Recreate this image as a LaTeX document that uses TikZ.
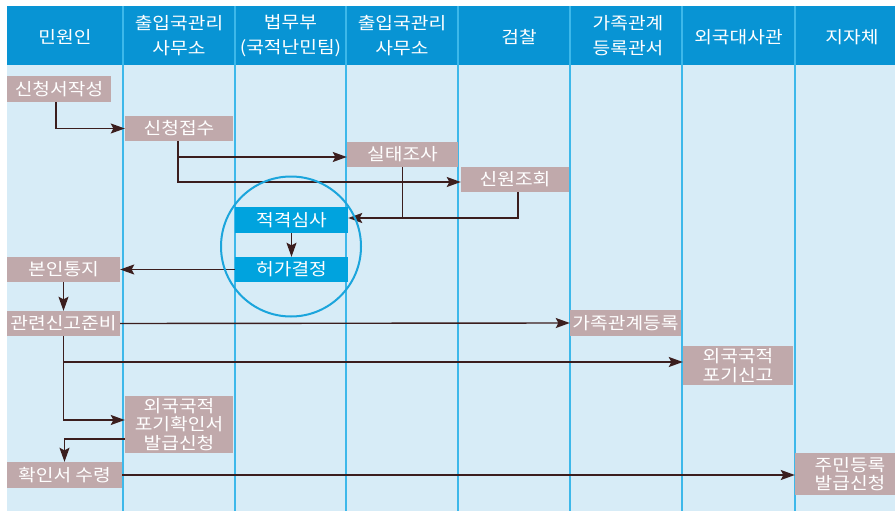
\documentclass[tikz,border=0pt]{standalone}
\usepackage{fontspec}
\newfontfamily\kr[FakeStretch=1.13]{Noto Sans CJK KR}
\usetikzlibrary{arrows.meta,calc}
\definecolor{bgc}{HTML}{D7ECF7}
\definecolor{hdrc}{HTML}{0894D4}
\definecolor{divc}{HTML}{3DB8EA}
\definecolor{boxc}{HTML}{C0A9AB}
\definecolor{bluebox}{HTML}{00A3DE}
\definecolor{arrc}{HTML}{3B1E1E}
\definecolor{circc}{HTML}{1BA5DC}
\tikzset{
  hdrtxt/.style={text=white, align=center, inner sep=0, font=\kr\fontsize{17}{25}\selectfont},
  box/.style={fill=boxc, text=white, align=center, inner sep=0, font=\kr\fontsize{17}{18.5}\selectfont},
  bbox/.style={box, fill=bluebox},
  divline/.style={draw=divc, line width=2pt},
  conn/.style={draw=arrc, line width=1.4pt},
  arr/.style={conn, -{Stealth[length=14pt,width=10pt,inset=2.5pt]}},
}
\begin{document}
\begin{tikzpicture}[x=1pt,y=-1pt]
\useasboundingbox (0,0) rectangle (895,511);
\fill[white] (0,0) rectangle (895,511);
\fill[bgc] (7,6) rectangle (900,511);
\fill[hdrc] (7,6) rectangle (900,65);
\foreach \x in {123,235,346,458,570,682,795} \draw[divline] (\x,6) -- (\x,511);
% header
\node[hdrtxt] (h1) at (65,37) {민원인};
\node[hdrtxt] (h2) at (179,36) {출입국관리\\사무소};
\node[hdrtxt] (h3) at (290.5,36) {법무부\\(국적난민팀)};
\node[hdrtxt] (h4) at (402,36) {출입국관리\\사무소};
\node[hdrtxt] (h5) at (519,37) {검찰};
\node[hdrtxt] (h6) at (628,36) {가족관계\\등록관서};
\node[hdrtxt] (h7) at (738.5,37) {외국대사관};
\node[hdrtxt] (h8) at (852,37) {지자체};
% boxes
\node[box, minimum width=104, minimum height=26] (a) at (59,89) {신청서작성};
\node[box, minimum width=108, minimum height=25] (b) at (179,128.5) {신청접수};
\node[box, minimum width=111, minimum height=25] (c) at (402.5,154.5) {실태조사};
\node[box, minimum width=108, minimum height=25] (d) at (515,179.5) {신원조회};
\node[bbox, minimum width=113, minimum height=26] (e) at (291.5,220) {적격심사};
\node[bbox, minimum width=113, minimum height=25] (f) at (291.5,269.5) {허가결정};
\node[box, minimum width=113, minimum height=25] (g) at (63.5,269.5) {본인통지};
\node[box, minimum width=113, minimum height=25] (h) at (63.5,323.5) {관련신고준비};
\node[box, minimum width=111, minimum height=26] (i) at (625.5,323) {가족관계등록};
\node[box, minimum width=110, minimum height=39] (j) at (738,365.5) {외국국적\\포기신고};
\node[box, minimum width=108, minimum height=57] (k) at (179,424.5) {외국국적\\포기확인서\\발급신청};
\node[box, minimum width=115, minimum height=26] (l) at (64.5,475) {확인서 수령};
\node[box, minimum width=110, minimum height=42] (m) at (850,474) {주민등록\\발급신청};
% connectors
\draw[arr] ([xshift=-3pt]a.south) |- (b.west);
\draw[arr] ([xshift=-1pt]b.south) |- ([yshift=-2.5pt]c.west);
\draw[arr] ([xshift=-1pt]b.south) |- ([yshift=-2.5pt]d.west);
\coordinate (jn) at ($(e.east)+(0,-2)$);
\draw[arr] ([xshift=3pt]d.south) |- (jn);
\draw[conn] (c.south) -- (c.south |- jn);
\draw[arr] (e) -- (f);
\draw[arr] (f.west) -- (g.east);
\draw[arr] (g) -- (h);
\draw[arr] (h.east) -- (i.west);
\draw[arr] (h.south) |- ([yshift=3.5pt]j.west);
\draw[arr] (h.south) |- ([yshift=4.5pt]k.west);
\draw[arr] ([yshift=-14.5pt]k.west) -| (l.north);
\draw[arr] (l.east) -- (l.east -| m.west);
% circle
\draw[circc, line width=2pt] (291,246.5) circle (70);
\end{tikzpicture}
\end{document}
